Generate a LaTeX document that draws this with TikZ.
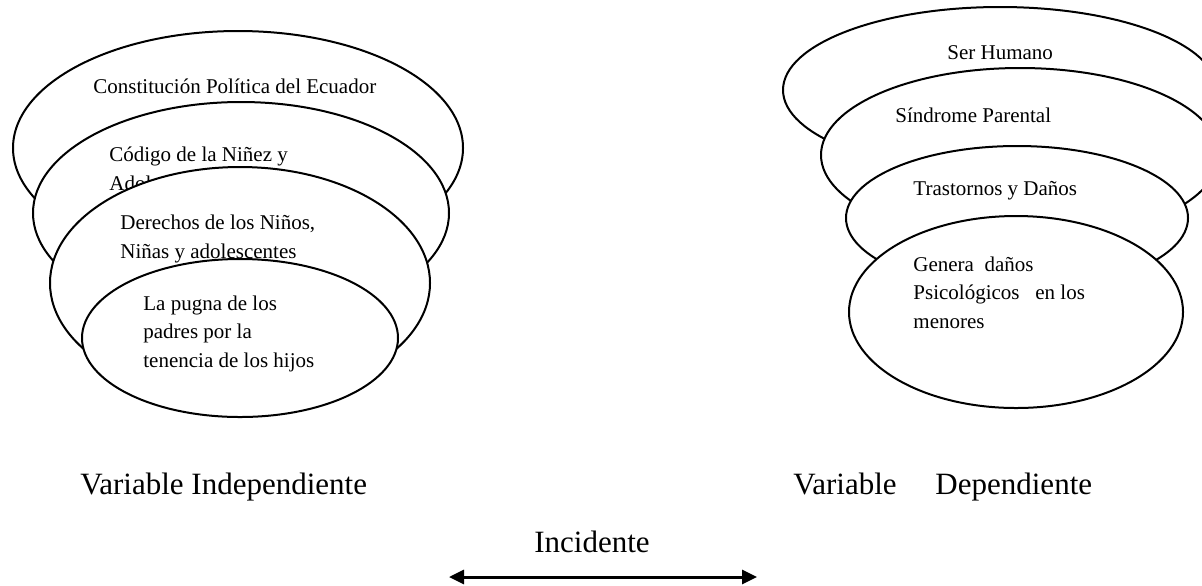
\documentclass[tikz,border=0pt]{standalone}
\usepackage{fontspec}
\setmainfont{Liberation Serif}
\usepackage{tikz}
\usetikzlibrary{arrows.meta}
\tikzstyle{capa}=[draw,line width=1pt,fill=white]
\tikzstyle{etiq}=[anchor=base west,inner sep=0pt,align=left,font=\fontsize{10.5}{14.2}\selectfont]
\tikzstyle{titulo}=[inner sep=0pt,font=\fontsize{15.5}{18}\selectfont]
\tikzstyle{flecha}=[line width=1.5pt,{Triangle[length=7.5pt,width=7pt]}-{Triangle[length=7.5pt,width=7pt]}]
\begin{document}
\begin{tikzpicture}[x=0.5pt,y=-0.5pt]
	\useasboundingbox (0,0) rectangle (1202,585);
	\clip (0,0) rectangle (1202,585);
	% variable independiente (base = ultima linea)
	\draw[capa] (238,148) ellipse [x radius=225,y radius=117];
	\node[etiq] (const) at (93,93) {Constitución Política del Ecuador};
	\draw[capa] (241,213) ellipse [x radius=208,y radius=111];
	\node[etiq] (codigo) at (109,190) {Código de la Niñez y\\Adolescencia};
	\draw[capa] (240,283) ellipse [x radius=190,y radius=116];
	\node[etiq] (derechos) at (120,258) {Derechos de los Niños,\\Niñas y adolescentes};
	\draw[capa] (240,338) ellipse [x radius=158,y radius=79];
	\node[etiq] (pugna) at (143,367) {La pugna de los\\padres por la\\tenencia de los hijos};
	% variable dependiente
	\draw[capa] (1000,90) ellipse [x radius=217,y radius=83];
	\node[etiq] (humano) at (947,59) {Ser Humano};
	\draw[capa] (1020,155) ellipse [x radius=199,y radius=87];
	\node[etiq] (sindrome) at (895,122) {Síndrome Parental};
	\draw[capa] (1017,218) ellipse [x radius=171,y radius=72];
	\node[etiq] (trastornos) at (913,195) {Trastornos y Daños};
	\draw[capa] (1016,312) ellipse [x radius=167,y radius=96];
	\node[etiq] (danos) at (913,328) {Genera\ \ daños\\Psicológicos\ \ \ en los\\menores};
	% rotulos
	\node[titulo,anchor=base west] (indep) at (80,494) {Variable Independiente};
	\node[titulo,anchor=base west] (dep) at (793,494) {Variable\hspace{1.25em}Dependiente};
	\node[titulo,anchor=base] (incid) at (592,552) {Incidente};
	\coordinate (izq) at (449,577);
	\coordinate (der) at (757,577);
	\draw[flecha] (izq) -- (der);
\end{tikzpicture}
\end{document}
